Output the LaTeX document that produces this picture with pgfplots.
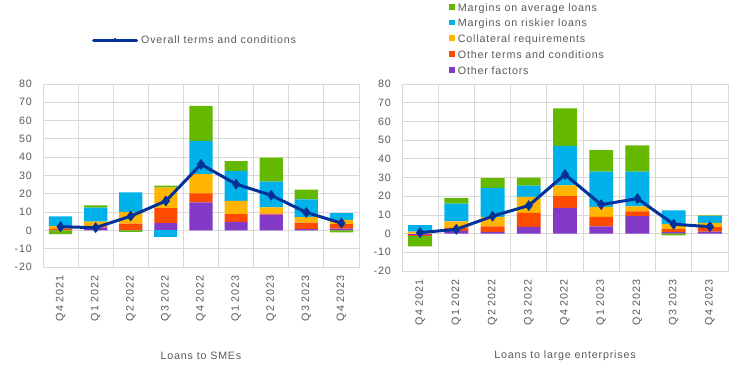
\documentclass[border=0pt]{standalone}
\usepackage{pgfplots}
\pgfplotsset{compat=1.18}
\usepackage{pgfplotstable}
\usepackage{fontspec}
\setmainfont{Liberation Sans}[LetterSpace=7.5]
\definecolor{cgreen}{HTML}{65B800}
\definecolor{cblue}{HTML}{00B1EA}
\definecolor{cyellow}{HTML}{FFB400}
\definecolor{cred}{HTML}{FF4B00}
\definecolor{cpurple}{HTML}{8139C6}
\definecolor{cline}{HTML}{003299}
\definecolor{cgrid}{HTML}{D9D9D9}
\definecolor{ctext}{HTML}{595959}
\newcommand\cf{\fontsize{10.7bp}{12.8bp}\selectfont}

% x, negative parts (purple red yellow blue green), positive parts, overall
\pgfplotstableread{
x pn rn yn bn gn pp rp yp bp gp ov
0 0 0 0 0 -2.0 0 1.0 1.3 5.4 0 2.0
1 0 0 0 0 0 1.5 0.7 2.6 7.6 1.3 1.5
2 0 0 0 0 -0.8 0.3 3.4 6.3 10.8 0 7.8
3 0 0 0 -3.6 0 4.0 8.2 11.2 0 1.1 16.1
4 0 0 0 0 0 15.3 5.0 10.5 18.1 19.1 36.1
5 0 0 0 0 0 4.6 4.3 7.3 16.3 5.3 25.3
6 0 0 0 0 0 8.6 0.5 3.5 14.0 13.2 19.2
7 0 0 0 0 0 0.7 3.5 3.1 9.7 5.3 9.8
8 0 0 0 0 -1.1 1.0 2.4 2.3 3.8 0 4.0
}\smes
\pgfplotstableread{
x pn rn yn bn gn pp rp yp bp gp ov
0 -0.6 -0.8 0 0 -5.4 0 0 1.0 3.5 0 0.5
1 0 0 0 0 0 1.5 1.5 3.5 9.5 3.0 2.3
2 0 0 0 0 0 0.9 3.0 5.0 15.5 5.2 9.3
3 0 0 0 0 0 3.6 7.5 8.5 6.1 4.2 15.0
4 0 0 0 0 0 13.7 6.3 5.8 21.1 20.1 31.6
5 0 0 0 0 0 3.9 5.0 5.4 18.9 11.4 15.5
6 0 0 0 0 0 9.4 2.5 2.7 18.6 14.0 18.7
7 0 0 0 0 -0.9 0.8 1.6 2.8 7.2 0 5.0
8 0 0 0 0 0 1.0 2.5 2.3 3.5 0.5 3.7
}\large

\pgfplotsset{
  base/.style={
    scale only axis, anchor=south west,
    xmin=-0.5, xmax=8.5, ymin=-20, ymax=80,
  },
  barax/.style={
    base,
    ybar stacked, bar width=0.66,
    ytick={-20,-10,...,80},
    xtick={0,...,8},
    xticklabels={Q4 2021,Q1 2022,Q2 2022,Q3 2022,Q4 2022,Q1 2023,Q2 2023,Q3 2023,Q4 2023},
    minor xtick={0.5,1.5,...,7.5},
    ymajorgrids, xminorgrids,
    major grid style={cgrid, line width=0.8bp},
    minor grid style={cgrid, line width=0.8bp},
    axis line style={cgrid, line width=0.8bp},
    major tick length=0pt, minor tick length=0pt,
    /pgf/number format/assume math mode=true,
    ticklabel style={font=\cf, text=ctext},
    yticklabel style={anchor=east, inner sep=0pt, xshift=-11bp},
    xticklabel style={rotate=90, anchor=east, inner sep=0pt, outer sep=9bp},
    xlabel style={font=\cf, text=ctext, at={(axis description cs:0.5,0)}, anchor=center},
  },
  neg/.style={draw=none, forget plot},
}

\begin{document}
\begin{tikzpicture}[x=1bp,y=1bp]
\path[use as bounding box] (0,0) rectangle (744bp,384bp);

% ---------- Left: SMEs ----------
\begin{axis}[barax, at={(43bp,117bp)}, width=316bp, height=183bp,
  xlabel={Loans to SMEs}, xlabel style={yshift=-89bp}]
\addplot[neg, fill=cpurple] table[x=x,y=pn]{\smes};
\addplot[neg, fill=cred] table[x=x,y=rn]{\smes};
\addplot[neg, fill=cyellow] table[x=x,y=yn]{\smes};
\addplot[neg, fill=cblue] table[x=x,y=bn]{\smes};
\addplot[neg, fill=cgreen] table[x=x,y=gn]{\smes};
\addplot[neg, fill=cpurple] table[x=x,y=pp]{\smes};
\addplot[neg, fill=cred] table[x=x,y=rp]{\smes};
\addplot[neg, fill=cyellow] table[x=x,y=yp]{\smes};
\addplot[neg, fill=cblue] table[x=x,y=bp]{\smes};
\addplot[neg, fill=cgreen] table[x=x,y=gp]{\smes};
\end{axis}
\begin{axis}[base, hide axis, at={(43bp,117bp)}, width=316bp, height=183bp,
  legend style={at={(0.155,1.2404)}, anchor=west, draw=none, fill=none,
    font=\cf, text=ctext, inner sep=0pt, nodes={inner sep=0pt}, column sep=3bp},
  legend image code/.code={\draw[mark repeat=2, mark phase=2, line cap=round, #1, mark size=2bp, mark options={line width=0.4bp}] plot coordinates {(0bp,0bp) (21.5bp,0bp) (43bp,0bp)};}]
\addplot[cline, line width=3bp, mark=diamond*, mark size=5bp, mark options={solid, fill=cline, line width=0.5bp}] table[x=x,y=ov]{\smes};
\addlegendentry{Overall terms and conditions}
\end{axis}

% ---------- Right: large enterprises ----------
\begin{axis}[barax, at={(402bp,113bp)}, width=326bp, height=187bp,
  xlabel={Loans to large enterprises}, xlabel style={yshift=-85bp},
  reverse legend,
  legend style={at={(0.1442,1.433)}, anchor=north west, draw=none, fill=none,
    font=\cf, text=ctext, inner sep=0pt,
    nodes={inner sep=0pt, text height=8bp, text depth=2bp, anchor=base west},
    row sep=5.75bp, column sep=3bp},
  legend image code/.code={\fill[#1] (0bp,1.7bp) rectangle (5.7bp,7.4bp);}]
\addplot[neg, fill=cpurple] table[x=x,y=pn]{\large};
\addplot[neg, fill=cred] table[x=x,y=rn]{\large};
\addplot[neg, fill=cyellow] table[x=x,y=yn]{\large};
\addplot[neg, fill=cblue] table[x=x,y=bn]{\large};
\addplot[neg, fill=cgreen] table[x=x,y=gn]{\large};
\addplot[draw=none, fill=cpurple] table[x=x,y=pp]{\large};
\addlegendentry{Other factors}
\addplot[draw=none, fill=cred] table[x=x,y=rp]{\large};
\addlegendentry{Other terms and conditions}
\addplot[draw=none, fill=cyellow] table[x=x,y=yp]{\large};
\addlegendentry{Collateral requirements}
\addplot[draw=none, fill=cblue] table[x=x,y=bp]{\large};
\addlegendentry{Margins on riskier loans}
\addplot[draw=none, fill=cgreen] table[x=x,y=gp]{\large};
\addlegendentry{Margins on average loans}
\end{axis}
\begin{axis}[base, hide axis, at={(402bp,113bp)}, width=326bp, height=187bp]
\addplot[cline, line width=3bp, mark=diamond*, mark size=5bp, mark options={solid, fill=cline, line width=0.5bp}] table[x=x,y=ov]{\large};
\end{axis}
\end{tikzpicture}
\end{document}
